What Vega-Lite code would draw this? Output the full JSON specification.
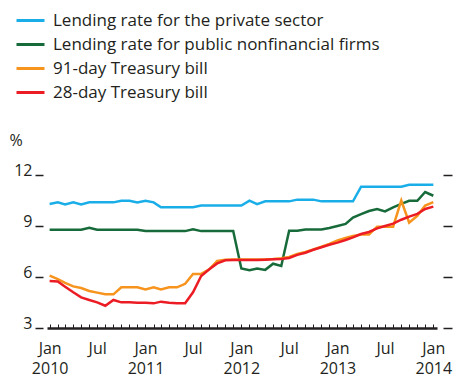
{
  "$schema": "https://vega.github.io/schema/vega-lite/v6.json",
  "width": 390,
  "height": 153,
  "autosize": "none",
  "padding": {"left": 47, "top": 175, "right": 16, "bottom": 49},
  "background": "white",
  "config": {"view": {"stroke": null}, "font": "Open Sans"},
  "data": {
    "format": {"parse": {"d": "date:'%Y-%m'"}},
    "values": [
      {"d":"2010-01","s":"Lending rate for the private sector","v":10.29},
      {"d":"2010-02","s":"Lending rate for the private sector","v":10.39},
      {"d":"2010-03","s":"Lending rate for the private sector","v":10.27},
      {"d":"2010-04","s":"Lending rate for the private sector","v":10.39},
      {"d":"2010-05","s":"Lending rate for the private sector","v":10.27},
      {"d":"2010-06","s":"Lending rate for the private sector","v":10.39},
      {"d":"2010-07","s":"Lending rate for the private sector","v":10.39},
      {"d":"2010-08","s":"Lending rate for the private sector","v":10.39},
      {"d":"2010-09","s":"Lending rate for the private sector","v":10.39},
      {"d":"2010-10","s":"Lending rate for the private sector","v":10.49},
      {"d":"2010-11","s":"Lending rate for the private sector","v":10.49},
      {"d":"2010-12","s":"Lending rate for the private sector","v":10.39},
      {"d":"2011-01","s":"Lending rate for the private sector","v":10.49},
      {"d":"2011-02","s":"Lending rate for the private sector","v":10.39},
      {"d":"2011-03","s":"Lending rate for the private sector","v":10.1},
      {"d":"2011-04","s":"Lending rate for the private sector","v":10.1},
      {"d":"2011-05","s":"Lending rate for the private sector","v":10.1},
      {"d":"2011-06","s":"Lending rate for the private sector","v":10.1},
      {"d":"2011-07","s":"Lending rate for the private sector","v":10.1},
      {"d":"2011-08","s":"Lending rate for the private sector","v":10.2},
      {"d":"2011-09","s":"Lending rate for the private sector","v":10.2},
      {"d":"2011-10","s":"Lending rate for the private sector","v":10.2},
      {"d":"2011-11","s":"Lending rate for the private sector","v":10.2},
      {"d":"2011-12","s":"Lending rate for the private sector","v":10.2},
      {"d":"2012-01","s":"Lending rate for the private sector","v":10.2},
      {"d":"2012-02","s":"Lending rate for the private sector","v":10.49},
      {"d":"2012-03","s":"Lending rate for the private sector","v":10.29},
      {"d":"2012-04","s":"Lending rate for the private sector","v":10.45},
      {"d":"2012-05","s":"Lending rate for the private sector","v":10.45},
      {"d":"2012-06","s":"Lending rate for the private sector","v":10.45},
      {"d":"2012-07","s":"Lending rate for the private sector","v":10.45},
      {"d":"2012-08","s":"Lending rate for the private sector","v":10.55},
      {"d":"2012-09","s":"Lending rate for the private sector","v":10.55},
      {"d":"2012-10","s":"Lending rate for the private sector","v":10.55},
      {"d":"2012-11","s":"Lending rate for the private sector","v":10.45},
      {"d":"2012-12","s":"Lending rate for the private sector","v":10.45},
      {"d":"2013-01","s":"Lending rate for the private sector","v":10.45},
      {"d":"2013-02","s":"Lending rate for the private sector","v":10.45},
      {"d":"2013-03","s":"Lending rate for the private sector","v":10.45},
      {"d":"2013-04","s":"Lending rate for the private sector","v":11.31},
      {"d":"2013-05","s":"Lending rate for the private sector","v":11.31},
      {"d":"2013-06","s":"Lending rate for the private sector","v":11.31},
      {"d":"2013-07","s":"Lending rate for the private sector","v":11.31},
      {"d":"2013-08","s":"Lending rate for the private sector","v":11.31},
      {"d":"2013-09","s":"Lending rate for the private sector","v":11.31},
      {"d":"2013-10","s":"Lending rate for the private sector","v":11.43},
      {"d":"2013-11","s":"Lending rate for the private sector","v":11.43},
      {"d":"2013-12","s":"Lending rate for the private sector","v":11.43},
      {"d":"2014-01","s":"Lending rate for the private sector","v":11.43},

      {"d":"2010-01","s":"Lending rate for public nonfinancial firms","v":8.78},
      {"d":"2010-02","s":"Lending rate for public nonfinancial firms","v":8.78},
      {"d":"2010-03","s":"Lending rate for public nonfinancial firms","v":8.78},
      {"d":"2010-04","s":"Lending rate for public nonfinancial firms","v":8.78},
      {"d":"2010-05","s":"Lending rate for public nonfinancial firms","v":8.78},
      {"d":"2010-06","s":"Lending rate for public nonfinancial firms","v":8.9},
      {"d":"2010-07","s":"Lending rate for public nonfinancial firms","v":8.78},
      {"d":"2010-08","s":"Lending rate for public nonfinancial firms","v":8.78},
      {"d":"2010-09","s":"Lending rate for public nonfinancial firms","v":8.78},
      {"d":"2010-10","s":"Lending rate for public nonfinancial firms","v":8.78},
      {"d":"2010-11","s":"Lending rate for public nonfinancial firms","v":8.78},
      {"d":"2010-12","s":"Lending rate for public nonfinancial firms","v":8.78},
      {"d":"2011-01","s":"Lending rate for public nonfinancial firms","v":8.7},
      {"d":"2011-02","s":"Lending rate for public nonfinancial firms","v":8.7},
      {"d":"2011-03","s":"Lending rate for public nonfinancial firms","v":8.7},
      {"d":"2011-04","s":"Lending rate for public nonfinancial firms","v":8.7},
      {"d":"2011-05","s":"Lending rate for public nonfinancial firms","v":8.7},
      {"d":"2011-06","s":"Lending rate for public nonfinancial firms","v":8.7},
      {"d":"2011-07","s":"Lending rate for public nonfinancial firms","v":8.8},
      {"d":"2011-08","s":"Lending rate for public nonfinancial firms","v":8.7},
      {"d":"2011-09","s":"Lending rate for public nonfinancial firms","v":8.7},
      {"d":"2011-10","s":"Lending rate for public nonfinancial firms","v":8.7},
      {"d":"2011-11","s":"Lending rate for public nonfinancial firms","v":8.7},
      {"d":"2011-12","s":"Lending rate for public nonfinancial firms","v":8.7},
      {"d":"2012-01","s":"Lending rate for public nonfinancial firms","v":6.5},
      {"d":"2012-02","s":"Lending rate for public nonfinancial firms","v":6.4},
      {"d":"2012-03","s":"Lending rate for public nonfinancial firms","v":6.5},
      {"d":"2012-04","s":"Lending rate for public nonfinancial firms","v":6.42},
      {"d":"2012-05","s":"Lending rate for public nonfinancial firms","v":6.78},
      {"d":"2012-06","s":"Lending rate for public nonfinancial firms","v":6.65},
      {"d":"2012-07","s":"Lending rate for public nonfinancial firms","v":8.72},
      {"d":"2012-08","s":"Lending rate for public nonfinancial firms","v":8.72},
      {"d":"2012-09","s":"Lending rate for public nonfinancial firms","v":8.8},
      {"d":"2012-10","s":"Lending rate for public nonfinancial firms","v":8.8},
      {"d":"2012-11","s":"Lending rate for public nonfinancial firms","v":8.8},
      {"d":"2012-12","s":"Lending rate for public nonfinancial firms","v":8.88},
      {"d":"2013-01","s":"Lending rate for public nonfinancial firms","v":9.0},
      {"d":"2013-02","s":"Lending rate for public nonfinancial firms","v":9.12},
      {"d":"2013-03","s":"Lending rate for public nonfinancial firms","v":9.5},
      {"d":"2013-04","s":"Lending rate for public nonfinancial firms","v":9.7},
      {"d":"2013-05","s":"Lending rate for public nonfinancial firms","v":9.88},
      {"d":"2013-06","s":"Lending rate for public nonfinancial firms","v":10.0},
      {"d":"2013-07","s":"Lending rate for public nonfinancial firms","v":9.86},
      {"d":"2013-08","s":"Lending rate for public nonfinancial firms","v":10.1},
      {"d":"2013-09","s":"Lending rate for public nonfinancial firms","v":10.3},
      {"d":"2013-10","s":"Lending rate for public nonfinancial firms","v":10.48},
      {"d":"2013-11","s":"Lending rate for public nonfinancial firms","v":10.48},
      {"d":"2013-12","s":"Lending rate for public nonfinancial firms","v":11.0},
      {"d":"2014-01","s":"Lending rate for public nonfinancial firms","v":10.78},

      {"d":"2010-01","s":"91-day Treasury bill","v":6.08},
      {"d":"2010-02","s":"91-day Treasury bill","v":5.88},
      {"d":"2010-03","s":"91-day Treasury bill","v":5.65},
      {"d":"2010-04","s":"91-day Treasury bill","v":5.45},
      {"d":"2010-05","s":"91-day Treasury bill","v":5.35},
      {"d":"2010-06","s":"91-day Treasury bill","v":5.18},
      {"d":"2010-07","s":"91-day Treasury bill","v":5.08},
      {"d":"2010-08","s":"91-day Treasury bill","v":4.98},
      {"d":"2010-09","s":"91-day Treasury bill","v":4.98},
      {"d":"2010-10","s":"91-day Treasury bill","v":5.39},
      {"d":"2010-11","s":"91-day Treasury bill","v":5.39},
      {"d":"2010-12","s":"91-day Treasury bill","v":5.39},
      {"d":"2011-01","s":"91-day Treasury bill","v":5.27},
      {"d":"2011-02","s":"91-day Treasury bill","v":5.39},
      {"d":"2011-03","s":"91-day Treasury bill","v":5.27},
      {"d":"2011-04","s":"91-day Treasury bill","v":5.39},
      {"d":"2011-05","s":"91-day Treasury bill","v":5.39},
      {"d":"2011-06","s":"91-day Treasury bill","v":5.6},
      {"d":"2011-07","s":"91-day Treasury bill","v":6.18},
      {"d":"2011-08","s":"91-day Treasury bill","v":6.18},
      {"d":"2011-09","s":"91-day Treasury bill","v":6.45},
      {"d":"2011-10","s":"91-day Treasury bill","v":6.95},
      {"d":"2011-11","s":"91-day Treasury bill","v":7.02},
      {"d":"2011-12","s":"91-day Treasury bill","v":7.03},
      {"d":"2012-01","s":"91-day Treasury bill","v":7.03},
      {"d":"2012-02","s":"91-day Treasury bill","v":7.03},
      {"d":"2012-03","s":"91-day Treasury bill","v":7.03},
      {"d":"2012-04","s":"91-day Treasury bill","v":7.04},
      {"d":"2012-05","s":"91-day Treasury bill","v":7.06},
      {"d":"2012-06","s":"91-day Treasury bill","v":7.1},
      {"d":"2012-07","s":"91-day Treasury bill","v":7.18},
      {"d":"2012-08","s":"91-day Treasury bill","v":7.35},
      {"d":"2012-09","s":"91-day Treasury bill","v":7.48},
      {"d":"2012-10","s":"91-day Treasury bill","v":7.62},
      {"d":"2012-11","s":"91-day Treasury bill","v":7.78},
      {"d":"2012-12","s":"91-day Treasury bill","v":7.95},
      {"d":"2013-01","s":"91-day Treasury bill","v":8.15},
      {"d":"2013-02","s":"91-day Treasury bill","v":8.3},
      {"d":"2013-03","s":"91-day Treasury bill","v":8.42},
      {"d":"2013-04","s":"91-day Treasury bill","v":8.5},
      {"d":"2013-05","s":"91-day Treasury bill","v":8.5},
      {"d":"2013-06","s":"91-day Treasury bill","v":8.96},
      {"d":"2013-07","s":"91-day Treasury bill","v":8.96},
      {"d":"2013-08","s":"91-day Treasury bill","v":8.96},
      {"d":"2013-09","s":"91-day Treasury bill","v":10.5},
      {"d":"2013-10","s":"91-day Treasury bill","v":9.2},
      {"d":"2013-11","s":"91-day Treasury bill","v":9.6},
      {"d":"2013-12","s":"91-day Treasury bill","v":10.2},
      {"d":"2014-01","s":"91-day Treasury bill","v":10.4},

      {"d":"2010-01","s":"28-day Treasury bill","v":5.76},
      {"d":"2010-02","s":"28-day Treasury bill","v":5.73},
      {"d":"2010-03","s":"28-day Treasury bill","v":5.43},
      {"d":"2010-04","s":"28-day Treasury bill","v":5.1},
      {"d":"2010-05","s":"28-day Treasury bill","v":4.8},
      {"d":"2010-06","s":"28-day Treasury bill","v":4.65},
      {"d":"2010-07","s":"28-day Treasury bill","v":4.51},
      {"d":"2010-08","s":"28-day Treasury bill","v":4.31},
      {"d":"2010-09","s":"28-day Treasury bill","v":4.65},
      {"d":"2010-10","s":"28-day Treasury bill","v":4.51},
      {"d":"2010-11","s":"28-day Treasury bill","v":4.51},
      {"d":"2010-12","s":"28-day Treasury bill","v":4.49},
      {"d":"2011-01","s":"28-day Treasury bill","v":4.49},
      {"d":"2011-02","s":"28-day Treasury bill","v":4.45},
      {"d":"2011-03","s":"28-day Treasury bill","v":4.55},
      {"d":"2011-04","s":"28-day Treasury bill","v":4.49},
      {"d":"2011-05","s":"28-day Treasury bill","v":4.45},
      {"d":"2011-06","s":"28-day Treasury bill","v":4.45},
      {"d":"2011-07","s":"28-day Treasury bill","v":5.1},
      {"d":"2011-08","s":"28-day Treasury bill","v":6.06},
      {"d":"2011-09","s":"28-day Treasury bill","v":6.45},
      {"d":"2011-10","s":"28-day Treasury bill","v":6.8},
      {"d":"2011-11","s":"28-day Treasury bill","v":6.98},
      {"d":"2011-12","s":"28-day Treasury bill","v":7.0},
      {"d":"2012-01","s":"28-day Treasury bill","v":7.0},
      {"d":"2012-02","s":"28-day Treasury bill","v":7.0},
      {"d":"2012-03","s":"28-day Treasury bill","v":7.0},
      {"d":"2012-04","s":"28-day Treasury bill","v":7.02},
      {"d":"2012-05","s":"28-day Treasury bill","v":7.04},
      {"d":"2012-06","s":"28-day Treasury bill","v":7.06},
      {"d":"2012-07","s":"28-day Treasury bill","v":7.12},
      {"d":"2012-08","s":"28-day Treasury bill","v":7.3},
      {"d":"2012-09","s":"28-day Treasury bill","v":7.43},
      {"d":"2012-10","s":"28-day Treasury bill","v":7.6},
      {"d":"2012-11","s":"28-day Treasury bill","v":7.75},
      {"d":"2012-12","s":"28-day Treasury bill","v":7.9},
      {"d":"2013-01","s":"28-day Treasury bill","v":8.02},
      {"d":"2013-02","s":"28-day Treasury bill","v":8.18},
      {"d":"2013-03","s":"28-day Treasury bill","v":8.33},
      {"d":"2013-04","s":"28-day Treasury bill","v":8.53},
      {"d":"2013-05","s":"28-day Treasury bill","v":8.65},
      {"d":"2013-06","s":"28-day Treasury bill","v":8.86},
      {"d":"2013-07","s":"28-day Treasury bill","v":9.0},
      {"d":"2013-08","s":"28-day Treasury bill","v":9.14},
      {"d":"2013-09","s":"28-day Treasury bill","v":9.37},
      {"d":"2013-10","s":"28-day Treasury bill","v":9.55},
      {"d":"2013-11","s":"28-day Treasury bill","v":9.71},
      {"d":"2013-12","s":"28-day Treasury bill","v":10.0},
      {"d":"2014-01","s":"28-day Treasury bill","v":10.14}
    ]
  },
  "layer": [
    {
      "mark": {"type": "line", "strokeWidth": 2.5},
      "encoding": {
        "x": {
          "field": "d",
          "type": "temporal",
          "scale": {"domain": [{"year": 2009, "month": 12, "date": 22}, {"year": 2014, "month": 1, "date": 15}]},
          "axis": {
            "title": null,
            "grid": false,
            "tickCount": {"interval": "month", "step": 1},
            "labelExpr": "month(datum.value) == 0 ? ['Jan', timeFormat(datum.value, '%Y')] : (month(datum.value) == 6 ? 'Jul' : '')",
            "labelOverlap": false,
            "labelFlush": false,
            "labelFont": "Open Sans",
            "labelFontSize": 16,
            "labelColor": "#231f20",
            "labelLineHeight": 20,
            "labelBaseline": "top",
            "labelPadding": 16,
            "tickSize": -4,
            "tickColor": "#231f20",
            "tickWidth": 1,
            "domainColor": "#231f20",
            "domainWidth": 2.5
          }
        },
        "y": {
          "field": "v",
          "type": "quantitative",
          "scale": {"domain": [3, 12], "nice": false, "zero": false},
          "axis": {
            "title": "%",
            "titleAngle": 0,
            "titleX": -34,
            "titleY": -30,
            "titleAlign": "left",
            "titleBaseline": "alphabetic",
            "titleFont": "Open Sans",
            "titleFontSize": 16,
            "titleFontWeight": "normal",
            "titleColor": "#231f20",
            "values": [3, 6, 9, 12],
            "grid": false,
            "domain": false,
            "offset": 4,
            "tickSize": 8,
            "tickWidth": 1.5,
            "tickColor": "#231f20",
            "labelBaseline": "alphabetic",
            "labelPadding": 3,
            "labelFont": "Open Sans",
            "labelFontSize": 16,
            "labelColor": "#231f20"
          }
        },
        "color": {
          "field": "s",
          "type": "nominal",
          "sort": null,
          "scale": {
            "domain": ["Lending rate for the private sector", "Lending rate for public nonfinancial firms", "91-day Treasury bill", "28-day Treasury bill"],
            "range": ["#1aaee8", "#176b3a", "#f7941d", "#ec1c24"]
          },
          "legend": {
            "title": null,
            "orient": "none",
            "legendX": -32,
            "legendY": -170,
            "symbolType": "stroke",
            "symbolSize": 784,
            "symbolStrokeWidth": 3,
            "labelFont": "Open Sans",
            "labelFontSize": 17,
            "labelColor": "#231f20",
            "labelOffset": 7,
            "rowPadding": 0,
            "labelLimit": 400
          }
        }
      }
    },
    {
      "mark": {"type": "line", "opacity": 0},
      "encoding": {
        "x": {"field": "d", "type": "temporal"},
        "y": {
          "field": "v",
          "type": "quantitative",
          "axis": {
            "orient": "right",
            "title": null,
            "values": [3, 6, 9, 12],
            "labels": false,
            "grid": false,
            "domain": false,
            "offset": 6,
            "tickSize": 9,
            "tickWidth": 1.5,
            "tickColor": "#231f20"
          }
        },
        "detail": {"field": "s"}
      }
    }
  ],
  "resolve": {"axis": {"y": "independent"}}
}
